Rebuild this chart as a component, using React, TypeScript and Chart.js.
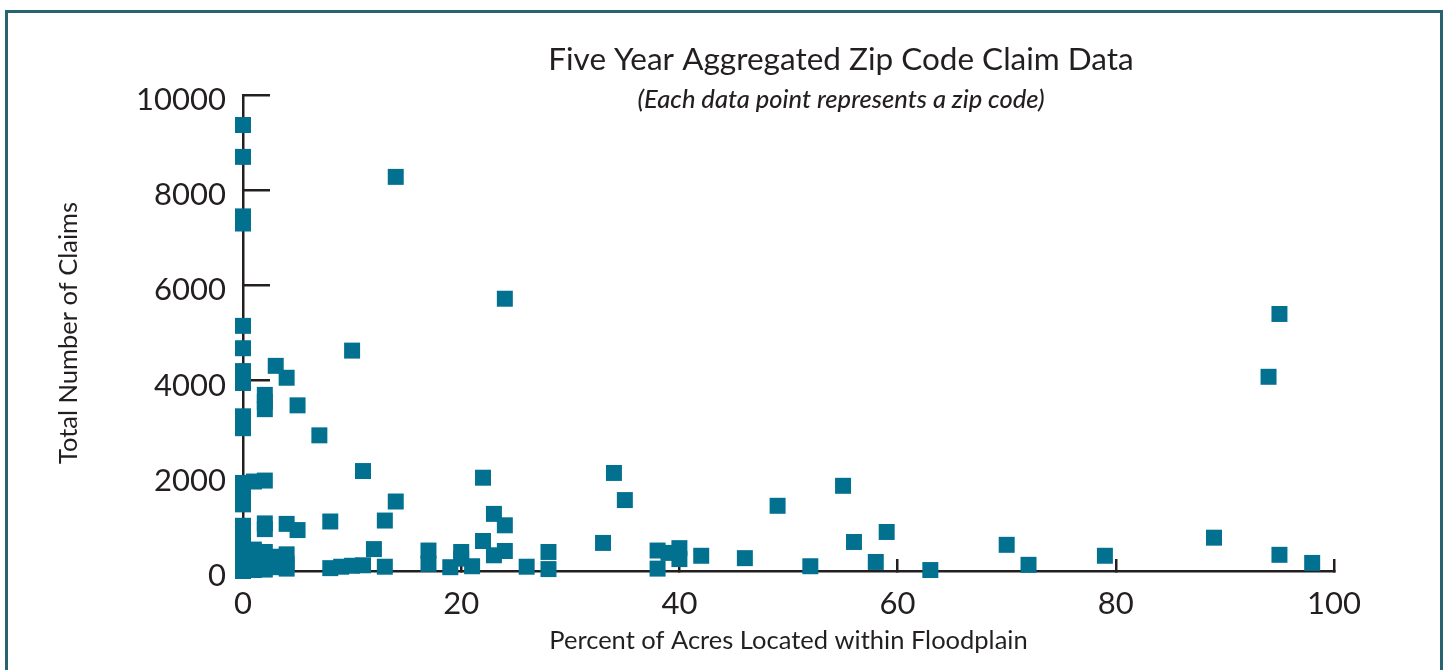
import React, { useEffect, useRef } from "react";
import { Chart, registerables } from "chart.js";

Chart.register(...registerables);

// ---- Data ----
const percentFloodplain: number[] = [
  0, 0, 0, 0, 0, 0, 0, 0, 0, 0, 0, 0, 0, 0, 0, 0, 0, 0, 0,
  1, 1, 1, 1,
  2, 2, 2, 2, 2, 2, 2, 2, 2,
  3, 3, 3,
  4, 4, 4, 4, 4,
  5, 5,
  7,
  8, 8,
  9,
  10, 10,
  11, 11,
  12,
  13, 13,
  14, 14,
  17, 17,
  19,
  20, 20,
  21,
  22, 22,
  23, 23,
  24, 24, 24,
  26,
  28, 28,
  33, 34, 35,
  38, 38, 39, 40, 40,
  42, 46, 49, 52, 55, 56, 58, 59, 63,
  70, 72, 79, 89, 94, 95, 95, 98,
];

const totalClaims: number[] = [
  9370, 8700, 7450, 7300, 5150, 4680, 4200, 4050, 3950, 3250, 3000, 1850, 1600, 1400, 950, 700, 450, 200, 0,
  1880, 450, 200, 20,
  3700, 3550, 3400, 1900, 1000, 880, 400, 150, 30,
  4310, 300, 80,
  4060, 990, 350, 150, 50,
  3480, 860,
  2850,
  1040, 60,
  90,
  4630, 110,
  2100, 120,
  460,
  1060, 90,
  8280, 1460,
  430, 150,
  80,
  400, 260,
  100,
  1960, 630,
  1200, 330,
  5720, 960, 420,
  90,
  400, 40,
  590, 2060, 1490,
  430, 50, 380, 480, 250,
  320, 270, 1370, 100, 1790, 610, 190, 820, 20,
  550, 130, 320, 700, 4080, 5400, 340, 170,
];

const xTickStep = 20;
const yTickStep = 2000;
const chartTitle = "Five Year Aggregated Zip Code Claim Data";
const chartSubtitle = "(Each data point represents a zip code)";
const xAxisTitle = "Percent of Acres Located within Floodplain";
const yAxisTitle = "Total Number of Claims";

const INK = "#231f20";
const MARK = "#02708f";
const FONT = "Lato, 'Open Sans', sans-serif";

const titlePlugin = {
  id: "customTitles",
  afterDraw(chart: any) {
    const ctx = chart.ctx;
    ctx.save();
    ctx.fillStyle = INK;
    ctx.textAlign = "center";
    ctx.textBaseline = "middle";
    ctx.font = `400 31.5px ${FONT}`;
    ctx.fillText(chartTitle, 841, 60);
    ctx.font = `italic 500 25.5px ${FONT}`;
    ctx.fillText(chartSubtitle, 841, 100);
    ctx.restore();
  },
};

export default function App() {
  const canvasRef = useRef<HTMLCanvasElement | null>(null);

  useEffect(() => {
    if (!canvasRef.current) return;
    const points = percentFloodplain.map((x, i) => ({ x, y: totalClaims[i] }));
    const chart = new Chart(canvasRef.current, {
      type: "scatter",
      data: {
        datasets: [
          {
            label: "Zip codes",
            data: points,
            pointStyle: "rect",
            pointRadius: 11.3,
            pointHoverRadius: 11.3,
            pointBackgroundColor: MARK,
            pointBorderWidth: 0,
            borderWidth: 0,
            clip: false,
          },
        ],
      },
      options: {
        animation: false,
        responsive: false,
        maintainAspectRatio: false,
        events: [],
        layout: { padding: { top: 95, right: 113, bottom: 0, left: 0 } },
        plugins: {
          legend: { display: false },
          tooltip: { enabled: false },
          title: { display: false },
        },
        scales: {
          x: {
            type: "linear",
            position: "bottom",
            min: 0,
            max: 100,
            afterFit: (scale: any) => {
              scale.height = 99;
            },
            border: { display: true, color: INK, width: 2.5 },
            grid: {
              drawOnChartArea: false,
              drawTicks: true,
              tickLength: -12,
              color: INK,
              lineWidth: 2.5,
            },
            ticks: {
              stepSize: xTickStep,
              color: INK,
              padding: 26,
              font: { family: FONT, size: 31 },
              callback: (v: any) => String(v),
            },
            title: {
              display: true,
              text: xAxisTitle,
              color: INK,
              font: { family: FONT, size: 25.5 },
              padding: { top: 0, bottom: 14 },
            },
          },
          y: {
            type: "linear",
            position: "left",
            min: 0,
            max: 10000,
            afterFit: (scale: any) => {
              scale.width = 243;
            },
            border: { display: true, color: INK, width: 2.5 },
            grid: {
              drawOnChartArea: false,
              drawTicks: true,
              tickLength: -27,
              color: INK,
              lineWidth: 2.5,
            },
            ticks: {
              stepSize: yTickStep,
              color: INK,
              padding: 44,
              labelOffset: 5,
              font: { family: FONT, size: 31 },
              callback: (v: any) => String(v),
            },
            title: {
              display: true,
              text: yAxisTitle,
              color: INK,
              font: { family: FONT, size: 25.5 },
              padding: { top: 53, bottom: 0 },
            },
          },
        },
      },
      plugins: [titlePlugin],
    });
    return () => chart.destroy();
  }, []);

  return (
    <div style={{ position: "fixed", left: 0, top: 0, width: 1447, height: 670, background: "#fff", overflow: "hidden" }}>
      <div
        style={{
          position: "absolute",
          left: 5,
          top: 10,
          width: 1438,
          height: 720,
          boxSizing: "border-box",
          border: "3px solid #27646f",
        }}
      />
      <canvas ref={canvasRef} width={1447} height={670} style={{ position: "absolute", left: 0, top: 0, width: 1447, height: 670 }} />
    </div>
  );
}
